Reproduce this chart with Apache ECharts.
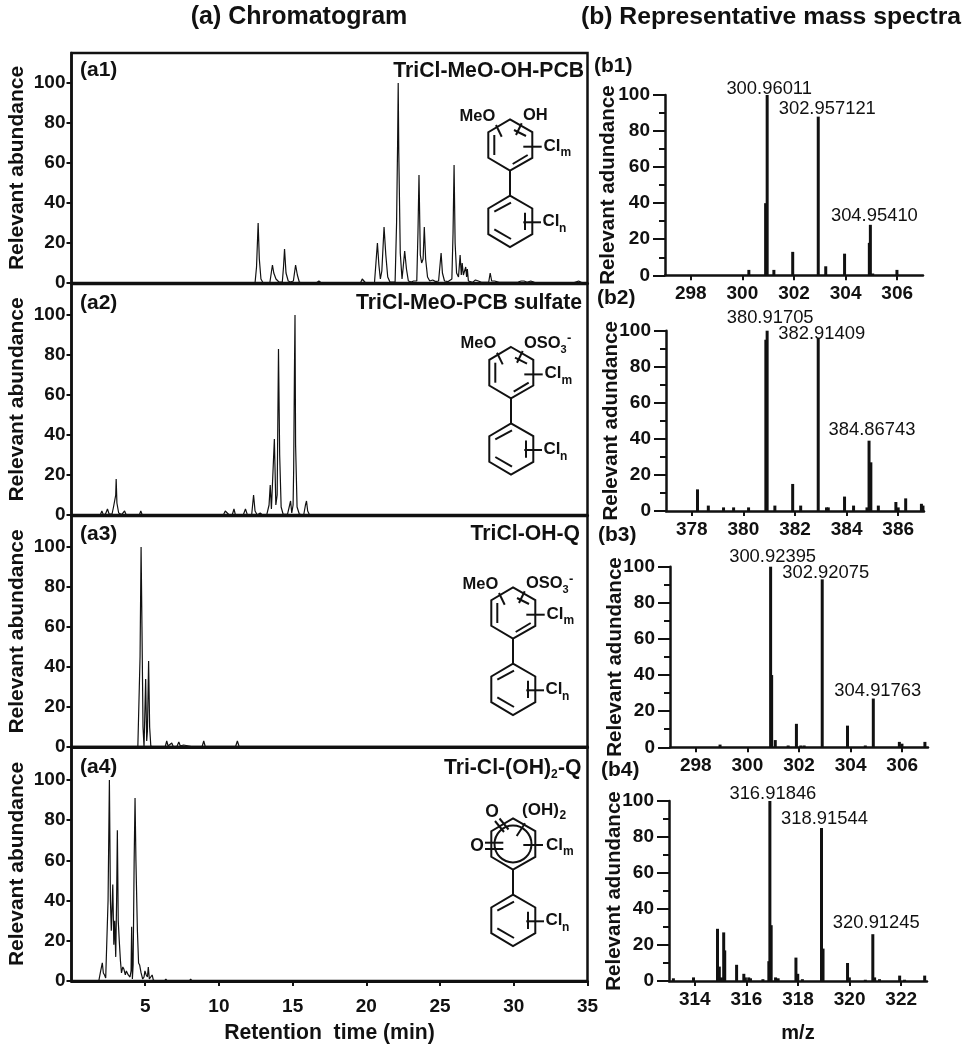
<!DOCTYPE html>
<html>
<head>
<meta charset="utf-8">
<style>
html, body { margin: 0; padding: 0; background: #fff; }
#main { width: 966px; height: 1050px; }
</style>
<script src="https://cdn.jsdelivr.net/npm/echarts@6/dist/echarts.min.js"></script>
</head>
<body>
<div id="main"></div>
<script>
// chromatogram traces, [retention time, abundance]
var a1Trace = [[0,0],[2.9,0],[2.95,0.7],[3.0,0],[12.45,0],[12.55,8],[12.66,30],[12.74,12],[12.85,2],[13.0,0],[13.45,0],[13.55,5],[13.63,9],[13.72,5],[13.8,6],[13.87,2],[13.97,3],[14.07,0.5],[14.3,0.5],[14.38,8],[14.45,17],[14.55,5],[14.7,1],[14.85,0.5],[15.05,1],[15.2,9],[15.32,4],[15.45,0.5],[15.6,0],[16.6,0],[16.78,1],[16.95,0],[18.0,0],[18.1,0.7],[18.2,0],[19.6,0],[19.72,2],[19.85,1.5],[19.95,0],[20.55,0],[20.65,10],[20.75,20],[20.85,9],[20.95,2],[21.05,6],[21.2,28],[21.32,14],[21.45,3],[21.6,0.5],[21.95,0.5],[22.05,30],[22.12,70],[22.16,100],[22.2,65],[22.3,15],[22.42,2],[22.5,8],[22.6,16],[22.72,7],[22.85,1],[23.05,0.5],[23.2,1],[23.42,1],[23.5,25],[23.57,54],[23.66,14],[23.75,10],[23.85,12],[23.93,28],[24.02,12],[24.15,3],[24.3,1],[24.5,1.5],[24.7,0.7],[24.9,1],[25.07,15],[25.16,5],[25.3,1],[25.55,0.7],[25.8,2],[25.88,25],[25.95,59],[26.02,20],[26.12,5],[26.25,3],[26.36,14],[26.44,4],[26.5,10],[26.58,4],[26.68,3],[26.74,8],[26.8,3],[26.85,7],[26.92,1],[27.2,0.3],[27.4,1.5],[27.6,1],[27.8,0.3],[28.3,0.5],[28.4,5],[28.5,1],[28.7,1],[29,0.3],[30,0.3],[30.1,1],[30.3,0.5],[30.5,1],[30.7,1],[30.9,0.4],[31.15,1],[31.4,0.3],[32,0.2],[33.8,0.2],[33.9,1],[34.1,0.2],[34.4,1],[34.6,0.2],[35,0]];
var a2Trace = [[0,0],[1.95,0],[2.06,2],[2.15,0.3],[2.3,0.4],[2.44,3],[2.55,0.5],[2.75,0.5],[2.85,4],[2.95,5],[3.0,10],[3.03,18],[3.08,6],[3.2,1],[3.4,0.2],[3.6,2],[3.7,0.2],[4.6,0],[4.7,2],[4.8,0],[5.1,0],[5.2,1],[5.3,0],[10.3,0],[10.43,2],[10.55,1],[10.7,0],[10.9,0],[11.02,3],[11.12,0],[11.65,0],[11.8,3],[11.92,0.3],[12.22,0],[12.35,10],[12.45,2],[12.6,0],[12.8,1],[12.95,0],[13.25,0.3],[13.4,5],[13.48,15],[13.56,3],[13.62,3],[13.76,38],[13.86,5],[13.95,10],[14.04,83],[14.12,30],[14.22,4],[14.35,0.5],[14.65,0.3],[14.78,1],[14.86,7],[14.94,1],[15.03,5],[15.07,23],[15.12,70],[15.16,100],[15.2,35],[15.3,4],[15.45,0.5],[15.75,0],[15.87,5],[15.94,7],[16.02,2],[16.15,0],[35,0]];
var a3Trace = [[0,0],[2.5,0],[2.6,0.7],[2.7,0],[4.5,0],[4.6,30],[4.65,45],[4.72,100],[4.78,60],[4.85,10],[4.92,0],[5.03,34],[5.1,3],[5.15,8],[5.23,43],[5.3,10],[5.38,0.5],[5.47,1],[5.55,0],[6.35,0],[6.46,3],[6.55,0.5],[6.65,0.5],[6.8,2],[6.9,0.3],[7.15,0.2],[7.28,2.5],[7.38,0.5],[7.6,1],[7.7,0],[8.3,0],[8.36,1],[8.45,0],[8.85,0],[8.97,3],[9.08,0],[11.12,0],[11.25,3],[11.38,0],[35,0]];
var a4Trace = [[0,0],[1.85,0],[1.98,5],[2.09,9],[2.16,4],[2.24,3],[2.32,1.5],[2.4,2],[2.48,40],[2.57,100],[2.64,40],[2.7,25],[2.8,48],[2.87,18],[2.93,30],[3.0,12],[3.06,40],[3.11,75],[3.17,30],[3.24,20],[3.32,10],[3.39,4],[3.48,7],[3.55,6],[3.65,3],[3.72,5],[3.85,3],[3.97,2],[4.04,5],[4.08,27],[4.13,1],[4.18,8],[4.25,60],[4.31,91],[4.37,60],[4.47,25],[4.55,9],[4.62,8],[4.72,4],[4.83,1],[4.92,2],[4.98,5],[5.07,3],[5.15,2],[5.21,7],[5.28,1],[5.38,1],[5.47,3],[5.55,0.5],[5.7,0],[6.3,0],[6.4,1],[6.5,0],[8.0,0],[8.08,1],[8.18,0],[35,0]];

// mass spectra sticks
var b1Mz = [300.25,300.9,300.96,301.22,301.95,302.94,303.23,303.96,304.92,304.96,305.05,305.99];
var b1Int = [3,40,100,3,13,88,5,12,18,28,1,3];
var b2Mz = [378.22,378.64,379.23,379.62,380.2,380.87,380.92,381.22,381.91,382.22,382.9,383.22,383.29,383.92,384.27,384.79,384.87,384.94,385.23,385.91,386,386.29,386.9,386.96];
var b2Int = [12,3,2,2,2,95,100,3,15,3,96,2,2,8,3,2,39,27,3,5,2,7,4,3];
var b3Mz = [298.94,300.9,300.94,301.08,301.58,301.9,302.07,302.2,302.9,303.88,304.57,304.88,305.89,305.99,306.88];
var b3Int = [1.5,100,40,4,1,13,1,1,93,12,1,27,3,2,3];
var b4Mz = [313.17,313.95,314.88,314.95,315.03,315.12,315.16,315.62,315.9,315.96,316.09,316.16,316.64,316.87,316.91,316.96,317.13,317.23,317.92,317.99,318.17,318.91,318.97,319.92,319.99,320.61,320.9,320.97,321.16,321.94,322.13,322.91];
var b4Int = [1.5,2,29,8,2,27,17,9,4,2,2,1.5,1,11,100,31,2,1.5,13,4,1,85,18,10,2,0.7,26,2,1,3,0.7,3];

// peak labels on the spectra
var b1PeakText = ['300.96011','302.957121','304.95410'];
var b1PeakMz = [300.96,302.94,304.96];
var b1PeakInt = [100,88,28];
var b2PeakText = ['380.91705','382.91409','384.86743'];
var b2PeakMz = [380.92,382.9,384.87];
var b2PeakInt = [100,96,39];
var b3PeakText = ['300.92395','302.92075','304.91763'];
var b3PeakMz = [300.9,302.9,304.88];
var b3PeakInt = [100,93,27];
var b4PeakText = ['316.91846','318.91544','320.91245'];
var b4PeakMz = [316.91,318.91,320.9];
var b4PeakInt = [100,85,26];

var yTickValues = [0,20,40,60,80,100];
var ink = '#111';
var fontName = '"Liberation Sans", Arial, sans-serif';

var myChart = echarts.init(document.getElementById('main'));

var grids = [], xAxes = [], yAxes = [], series = [], graphics = [];

// ---- left column
var leftPanels = [
    { trace: a1Trace, top: 53, height: 230, max: 115, showX: false },
    { trace: a2Trace, top: 284, height: 231, max: 115.5, showX: false },
    { trace: a3Trace, top: 516, height: 231, max: 115.5, showX: false },
    { trace: a4Trace, top: 747, height: 234, max: 116.4, showX: true }
];

leftPanels.forEach(function (p) {
    var idx = grids.length;
    grids.push({
        left: 71.5, width: 516, top: p.top, height: p.height, outerBoundsMode: 'none',
        show: true, borderColor: ink, borderWidth: 2.5, backgroundColor: 'transparent'
    });
    xAxes.push({
        gridIndex: idx, type: 'value', min: 0, max: 35, interval: 5,
        splitLine: { show: false },
        axisLine: { show: true, onZero: false, lineStyle: { color: ink, width: 3 } },
        axisTick: { show: p.showX, length: 5, lineStyle: { color: ink, width: 2 } },
        axisLabel: {
            show: p.showX, showMinLabel: false, color: ink, fontFamily: fontName,
            fontWeight: 'bold', fontSize: 19, margin: 16
        },
        name: p.showX ? 'Retention  time (min)' : '',
        nameLocation: 'middle', nameGap: 42, nameMoveOverlap: false,
        nameTextStyle: { color: ink, fontFamily: fontName, fontWeight: 'bold', fontSize: 21.2 }
    });
    yAxes.push({
        gridIndex: idx, type: 'value', min: 0, max: p.max,
        splitLine: { show: false },
        axisLine: { show: true, lineStyle: { color: ink, width: 2.5 } },
        axisTick: { show: true, length: 5, customValues: yTickValues, lineStyle: { color: ink, width: 2 } },
        axisLabel: { customValues: yTickValues, color: ink, fontFamily: fontName, fontWeight: 'bold', fontSize: 19, margin: 6 },
        name: 'Relevant abundance', nameLocation: 'middle', nameGap: 44, nameMoveOverlap: false,
        nameTextStyle: { color: ink, fontFamily: fontName, fontWeight: 'bold', fontSize: 21 }
    });
    series.push({
        type: 'line', xAxisIndex: idx, yAxisIndex: idx, data: p.trace,
        showSymbol: false, symbol: 'none', smooth: false,
        lineStyle: { color: ink, width: 1.2 }, z: 3
    });
});

// ---- right column
var rightPanels = [
    { mz: b1Mz, int: b1Int, text: b1PeakText, peakMz: b1PeakMz, peakInt: b1PeakInt, min: 297, left: 665, top: 95, height: 180.3, nameGap: 46, nudge: [[2,-6],[9,-8],[4,-9]] },
    { mz: b2Mz, int: b2Int, text: b2PeakText, peakMz: b2PeakMz, peakInt: b2PeakInt, min: 377, left: 666, top: 330.7, height: 180.3, nameGap: 44, nudge: [[3,-13],[3.5,-4],[3,-11]] },
    { mz: b3Mz, int: b3Int, text: b3PeakText, peakMz: b3PeakMz, peakInt: b3PeakInt, min: 297, left: 670, top: 566.7, height: 180.6, nameGap: 44, nudge: [[2,-10],[3.5,-6],[4.5,-7.5]] },
    { mz: b4Mz, int: b4Int, text: b4PeakText, peakMz: b4PeakMz, peakInt: b4PeakInt, min: 313, left: 669, top: 801, height: 180, nameGap: 44, nudge: [[3,-7],[3,-9],[3.5,-11]] }
];

rightPanels.forEach(function (p) {
    var idx = grids.length;
    grids.push({ left: p.left, width: 258, top: p.top, height: p.height, outerBoundsMode: 'none' });
    xAxes.push({
        gridIndex: idx, type: 'value', min: p.min, max: p.min + 10, interval: 2,
        splitLine: { show: false },
        axisLine: { show: true, onZero: false, lineStyle: { color: ink, width: 2.5 } },
        axisTick: { show: true, length: 5, lineStyle: { color: ink, width: 2 } },
        axisLabel: {
            color: ink, fontFamily: fontName, fontWeight: 'bold', fontSize: 19, margin: 9,
            customValues: [p.min + 1, p.min + 3, p.min + 5, p.min + 7, p.min + 9]
        },
        name: idx === 7 ? 'm/z' : '', nameLocation: 'middle', nameGap: 42, nameMoveOverlap: false,
        nameTextStyle: { color: ink, fontFamily: fontName, fontWeight: 'bold', fontSize: 20 }
    });
    xAxes[idx].axisTick.customValues = xAxes[idx].axisLabel.customValues;
    yAxes.push({
        gridIndex: idx, type: 'value', min: 0, max: 100, interval: 20,
        splitLine: { show: false },
        axisLine: { show: true, lineStyle: { color: ink, width: 2.5 } },
        axisTick: { show: true, length: 12, lineStyle: { color: ink, width: 2 } },
        minorTick: { show: true, splitNumber: 2, length: 6, lineStyle: { color: ink, width: 2 } },
        axisLabel: { color: ink, fontFamily: fontName, fontWeight: 'bold', fontSize: 19, margin: 15 },
        name: 'Relevant adundance', nameLocation: 'middle', nameGap: p.nameGap, nameMoveOverlap: false,
        nameTextStyle: { color: ink, fontFamily: fontName, fontWeight: 'bold', fontSize: 20.5 }
    });
    series.push({
        type: 'bar', xAxisIndex: idx, yAxisIndex: idx, barWidth: 3,
        data: p.mz.map(function (m, i) { return [m, p.int[i]]; }),
        itemStyle: { color: ink }, z: 3
    });
    series.push({
        type: 'scatter', xAxisIndex: idx, yAxisIndex: idx, symbolSize: 0, silent: true,
        itemStyle: { opacity: 1 },
        data: p.peakMz.map(function (m, i) {
            return {
                value: [m, p.peakInt[i]],
                label: {
                    show: true, position: 'inside', formatter: p.text[i], offset: p.nudge[i],
                    color: ink, opacity: 1, fontFamily: fontName, fontSize: 18.4
                }
            };
        }),
        z: 4
    });
});

// ---- text helpers for graphic layer
function txt(x, y, s, size, weight, align) {
    graphics.push({
        type: 'text', x: x, y: y, z: 10, silent: true,
        style: {
            text: s, fill: ink, fontFamily: fontName, fontSize: size, fontWeight: weight || 'bold',
            textAlign: align || 'left', textVerticalAlign: 'middle'
        }
    });
}
function seg(x1, y1, x2, y2, dx, dy) {
    graphics.push({
        type: 'line', z: 10, silent: true,
        shape: { x1: x1 + dx, y1: y1 + dy, x2: x2 + dx, y2: y2 + dy },
        style: { stroke: ink, lineWidth: 2 }
    });
}
function ring(cy, dx, dy) {
    graphics.push({
        type: 'polygon', z: 10, silent: true,
        shape: { points: [[510 + dx, cy - 25.7 + dy], [532.3 + dx, cy - 12.8 + dy], [532.3 + dx, cy + 12.8 + dy],
            [510 + dx, cy + 25.7 + dy], [488.3 + dx, cy + 12.8 + dy], [488.3 + dx, cy - 12.8 + dy]] },
        style: { stroke: ink, lineWidth: 2, fill: 'none' }
    });
}
function lowerRing(dx, dy) {
    ring(221.3, dx, dy);
    seg(494.3, 211.7, 511, 202.7, dx, dy);
    seg(494.3, 229.3, 511, 239, dx, dy);
    seg(525, 212.7, 525, 230, dx, dy);
    seg(523.3, 222.3, 541, 222.3, dx, dy);
    seg(510, 170.7, 510, 196, dx, dy);
    txt(542.5 + dx, 221.5 + dy, 'Cl', 17);
    txt(559 + dx, 228.5 + dy, 'n', 12);
}
function upperRing(dx, dy) {
    ring(145, dx, dy);
    seg(494.3, 135, 494.3, 155, dx, dy);
    seg(512.7, 164, 527.7, 155, dx, dy);
    seg(514, 130, 526, 136, dx, dy);
    seg(496, 125, 501.7, 136.7, dx, dy);
    seg(521.7, 123.3, 516, 135, dx, dy);
    seg(523.3, 146.7, 541.7, 146.7, dx, dy);
    txt(543.5 + dx, 146 + dy, 'Cl', 17);
    txt(560.5 + dx, 153 + dy, 'm', 12);
    txt(459.5 + dx, 116 + dy, 'MeO', 16.5);
}
function sulfateTag(dx, dy) {
    txt(523 + dx, 115.5 + dy, 'OSO', 16.5);
    txt(559.5 + dx, 122 + dy, '3', 11);
    txt(566 + dx, 111 + dy, '-', 13);
}

// panel tags and names
txt(80, 70, '(a1)', 21);
txt(80, 303, '(a2)', 21);
txt(80, 534, '(a3)', 21);
txt(80, 767, '(a4)', 21);
txt(584, 71, 'TriCl-MeO-OH-PCB', 21.2, 'bold', 'right');
txt(582, 303, 'TriCl-MeO-PCB sulfate', 21.2, 'bold', 'right');
txt(580, 534, 'TriCl-OH-Q', 21.2, 'bold', 'right');
txt(551, 768, 'Tri-Cl-(OH)', 21.2, 'bold', 'right');
txt(551, 775, '2', 12);
txt(558, 768, '-Q', 21.2);

txt(594, 66, '(b1)', 21);
txt(597, 298, '(b2)', 21);
txt(598, 535, '(b3)', 21);
txt(601, 770, '(b4)', 21);

txt(299, 17, '(a) Chromatogram', 25, 'bold', 'center');
txt(771, 17, '(b) Representative mass spectra', 24.7, 'bold', 'center');

// structures
upperRing(0, 0);
lowerRing(0, 0);
txt(523, 115.5, 'OH', 16.5);

upperRing(1, 227.7);
lowerRing(1, 227.7);
sulfateTag(1, 227.7);

upperRing(3, 468);
lowerRing(3, 468);
sulfateTag(3, 468);

// quinone ring is drawn with a circle inside
ring(145, 3, 699);
graphics.push({
    type: 'circle', z: 10, silent: true,
    shape: { cx: 513, cy: 844, r: 18.5 },
    style: { stroke: ink, lineWidth: 2, fill: 'none' }
});
lowerRing(3, 699);
seg(485, 842.7, 503.3, 842.7, 0, 0);
seg(485, 849, 503.3, 849, 0, 0);
seg(495, 821, 504, 832, 0, 0);
seg(499.5, 818.5, 508.5, 829.5, 0, 0);
seg(525, 823.3, 516.7, 836, 0, 0);
seg(523.3, 845, 543, 845, 0, 0);
txt(546, 845, 'Cl', 17);
txt(563, 852, 'm', 12);
txt(477, 846, 'O', 17.5, 'bold', 'center');
txt(492, 812, 'O', 17.5, 'bold', 'center');
txt(522, 810, '(OH)', 17);
txt(559.5, 815.5, '2', 12);

var option = {
    backgroundColor: '#fff',
    animation: false,
    grid: grids,
    xAxis: xAxes,
    yAxis: yAxes,
    series: series,
    graphic: graphics
};
myChart.setOption(option);
</script>
</body>
</html>
